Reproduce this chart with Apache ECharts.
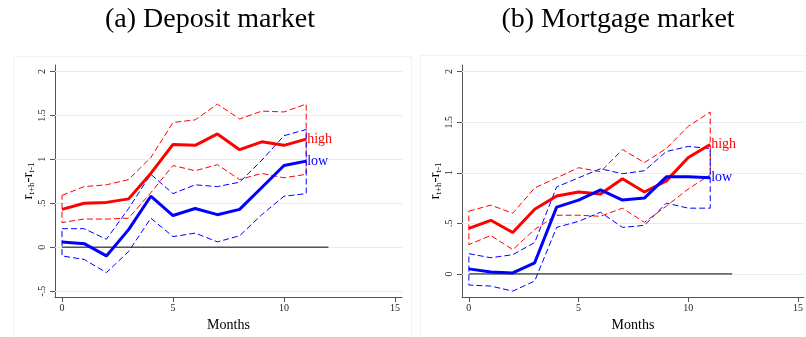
<!DOCTYPE html>
<html><head><meta charset="utf-8">
<script src="https://cdn.jsdelivr.net/npm/echarts@6/dist/echarts.min.js"></script>
<style>html,body{margin:0;padding:0;background:#fff}#c{width:806px;height:337px}</style>
</head><body><div id="c"></div><script>
// ---- data ----
const months = [0,1,2,3,4,5,6,7,8,9,10,11];
const xTicks = [0,5,10,15];
const yTicksA = [-0.5,0,0.5,1,1.5,2];
const yTicksB = [0,0.5,1,1.5,2];
const zeroLine = [[0,0],[12,0]];
const titles = ['(a) Deposit market','(b) Mortgage market'];
const seriesNames = ['high','low'];

// (a) Deposit market
const depHigh      = [0.43,0.50,0.51,0.55,0.84,1.17,1.16,1.29,1.11,1.20,1.16,1.23];
const depHighUpper = [0.59,0.69,0.71,0.77,1.02,1.42,1.45,1.63,1.46,1.55,1.54,1.63];
const depHighLower = [0.28,0.32,0.32,0.33,0.62,0.93,0.87,0.94,0.77,0.84,0.79,0.83];
const depLow       = [0.06,0.04,-0.10,0.20,0.58,0.36,0.44,0.37,0.43,0.68,0.93,0.98];
const depLowUpper  = [0.21,0.21,0.09,0.44,0.83,0.61,0.71,0.69,0.74,0.99,1.27,1.34];
const depLowLower  = [-0.10,-0.14,-0.29,-0.05,0.33,0.12,0.16,0.06,0.13,0.37,0.58,0.61];

// (b) Mortgage market
const morHigh      = [0.45,0.53,0.41,0.64,0.77,0.81,0.79,0.94,0.81,0.92,1.15,1.28];
const morHighUpper = [0.62,0.68,0.60,0.85,0.95,1.05,1.01,1.23,1.10,1.24,1.46,1.60];
const morHighLower = [0.29,0.38,0.24,0.44,0.58,0.58,0.57,0.65,0.51,0.67,0.84,0.98];
const morLow       = [0.05,0.02,0.01,0.11,0.66,0.73,0.83,0.73,0.75,0.96,0.96,0.95];
const morLowUpper  = [0.20,0.16,0.19,0.31,0.86,0.95,1.04,0.99,1.02,1.21,1.26,1.24];
const morLowLower  = [-0.11,-0.12,-0.17,-0.07,0.46,0.52,0.61,0.46,0.48,0.70,0.65,0.65];

// ---- chart ----
const FONT = 'Liberation Serif';
const RED = '#ff0000', BLUE = '#0000ff';
const AXC = '#555';

function pairs(vals){ return months.map((m,i)=>[m, vals[i]]); }
function band(up, lo){
  const d = months.map((m,i)=>[m, up[i]]);
  for (let i = months.length-1; i >= 0; i--) d.push([months[i], lo[i]]);
  d.push([months[0], up[0]]);
  return d;
}
function fmtY(v){
  if (v === 0) return '0';
  return String(v).replace('0.', '.');
}

const grids = [
  {left:55, top:65, width:347, height:237},
  {left:462, top:65, width:348, height:237}
];
const xRanges = [[-0.315,15.315],[-0.313,15.27]];
const yRanges = [[-0.569,2.075],[-0.229,2.065]];
const yTickSets = [yTicksA, yTicksB];

function xAxis(i){
  return {
    type:'value', gridIndex:i, min:xRanges[i][0], max:xRanges[i][1],
    axisLine:{onZero:false, lineStyle:{color:AXC, width:1}},
    axisTick:{customValues:xTicks, length:5, lineStyle:{color:AXC}},
    axisLabel:{customValues:xTicks, fontFamily:FONT, fontSize:10, color:'#222', margin:6},
    splitLine:{show:false},
    name:'Months', nameLocation:'middle', nameGap:18,
    nameTextStyle:{fontFamily:FONT, fontSize:14, color:'#000'}
  };
}
function yAxis(i){
  return {
    type:'value', gridIndex:i, min:yRanges[i][0], max:yRanges[i][1],
    axisLine:{onZero:false, lineStyle:{color:AXC, width:1}},
    axisTick:{customValues:yTickSets[i], length:5, lineStyle:{color:AXC}},
    axisLabel:{customValues:yTickSets[i], rotate:90, fontFamily:FONT, fontSize:10, color:'#222', margin:8, formatter:fmtY},
    splitLine:{show:false},
    name:'{r|r}{s|t+h}{r|-r}{s|t-1}', nameLocation:'middle', nameRotate:90, nameGap:12,
    nameTextStyle:{
      rich:{
        r:{fontFamily:FONT, fontSize:15, lineHeight:15, verticalAlign:'top', color:'#000'},
        s:{fontFamily:FONT, fontSize:9, lineHeight:9, padding:[7,0,0,0], verticalAlign:'top', color:'#000'}
      }
    }
  };
}

function panelSeries(i, hi, hiU, hiL, lo, loU, loL){
  const base = {type:'line', xAxisIndex:i, yAxisIndex:i, symbol:'none', showSymbol:false, silent:true, animation:false};
  return [
    Object.assign({}, base, {
      data: zeroLine, lineStyle:{color:'#000', width:1},
      markLine:{silent:true, z:1, symbol:['none','none'], label:{show:false},
        lineStyle:{color:'#e4edef', width:1, type:'solid'},
        data: yTickSets[i].map(v=>({yAxis:v}))}
    }),
    Object.assign({}, base, {data: band(hiU, hiL), lineStyle:{color:RED, width:1, type:[6,3]}}),
    Object.assign({}, base, {data: band(loU, loL), lineStyle:{color:BLUE, width:1, type:[6,3]}}),
    Object.assign({}, base, {data: pairs(hi), lineStyle:{color:RED, width:3},
      endLabel:{show:true, formatter:seriesNames[0], color:RED, fontFamily:FONT, fontSize:14, distance:1}}),
    Object.assign({}, base, {data: pairs(lo), lineStyle:{color:BLUE, width:3},
      endLabel:{show:true, formatter:seriesNames[1], color:BLUE, fontFamily:FONT, fontSize:14, distance:1}})
  ];
}

const chart = echarts.init(document.getElementById('c'), null, {renderer:'canvas'});
chart.setOption({
  animation:false,
  backgroundColor:'#fff',
  grid: grids,
  xAxis: [xAxis(0), xAxis(1)],
  yAxis: [yAxis(0), yAxis(1)],
  graphic: [
    {type:'rect', z:-1, shape:{x:13.5, y:56.5, width:398, height:300}, style:{fill:'none', stroke:'#f2f2f2', lineWidth:1}},
    {type:'rect', z:-1, shape:{x:420.5, y:55.5, width:400, height:300}, style:{fill:'none', stroke:'#f2f2f2', lineWidth:1}},
    {type:'text', x:210, y:20, style:{text:titles[0], font:'28px "Liberation Serif"', fill:'#000', textAlign:'center', textVerticalAlign:'middle', align:'center', verticalAlign:'middle'}},
    {type:'text', x:618, y:20, style:{text:titles[1], font:'28px "Liberation Serif"', fill:'#000', textAlign:'center', textVerticalAlign:'middle', align:'center', verticalAlign:'middle'}}
  ],
  series: [].concat(
    panelSeries(0, depHigh, depHighUpper, depHighLower, depLow, depLowUpper, depLowLower),
    panelSeries(1, morHigh, morHighUpper, morHighLower, morLow, morLowUpper, morLowLower)
  )
});
</script></body></html>
